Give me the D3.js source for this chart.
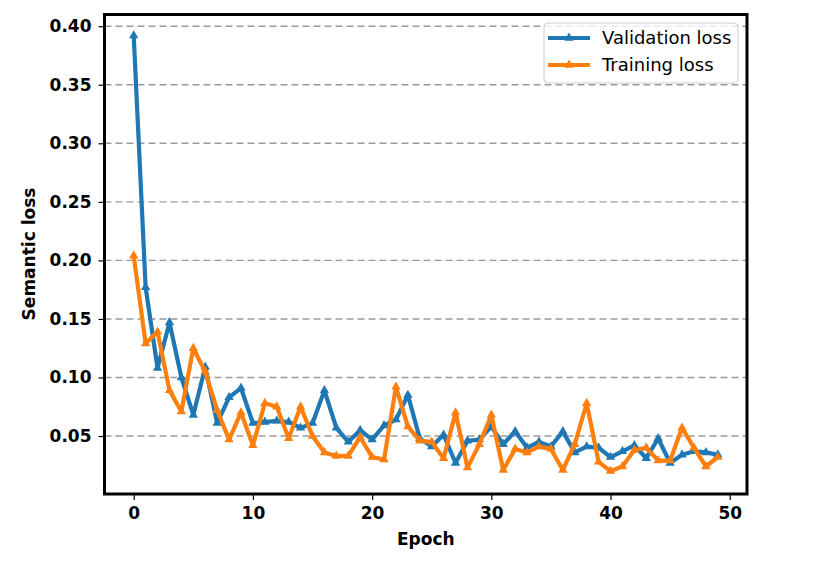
<!DOCTYPE html>
<html>
<head>
<meta charset="utf-8">
<script src="https://cdn.jsdelivr.net/npm/d3@7"></script>
<style>
  html, body { margin: 0; padding: 0; background: #fff; }
  svg { display: block; }
  text { font-family: "DejaVu Sans", sans-serif; }
</style>
</head>
<body>
<svg id="chart" width="830" height="562"></svg>
<script>
const epochs = d3.range(0, 50);
const validationLoss = [
  0.392, 0.177, 0.108, 0.147, 0.100, 0.068, 0.109, 0.061, 0.083, 0.091,
  0.061, 0.062, 0.063, 0.062, 0.057, 0.061, 0.089, 0.057, 0.045, 0.055,
  0.047, 0.059, 0.064, 0.085, 0.048, 0.041, 0.051, 0.027, 0.046, 0.047,
  0.058, 0.043, 0.054, 0.040, 0.045, 0.041, 0.054, 0.036, 0.041, 0.040,
  0.032, 0.037, 0.042, 0.031, 0.048, 0.027, 0.034, 0.037, 0.036, 0.034
];
const trainingLoss = [
  0.204, 0.129, 0.139, 0.089, 0.071, 0.125, 0.105, 0.072, 0.047, 0.070,
  0.042, 0.078, 0.075, 0.048, 0.075, 0.050, 0.036, 0.033, 0.033, 0.049,
  0.032, 0.030, 0.092, 0.058, 0.046, 0.045, 0.031, 0.070, 0.023, 0.043,
  0.068, 0.021, 0.039, 0.036, 0.041, 0.039, 0.021, 0.043, 0.078, 0.028,
  0.020, 0.024, 0.038, 0.040, 0.029, 0.029, 0.057, 0.040, 0.024, 0.032
];
const xTicks = [0, 10, 20, 30, 40, 50];
const yTicks = [0.05, 0.10, 0.15, 0.20, 0.25, 0.30, 0.35, 0.40];
const seriesNames = ["Validation loss", "Training loss"];
const seriesColors = ["#1f77b4", "#ff7f0e"];

const svg = d3.select("#chart");
const L = 104.5, R = 747, T = 14.5, B = 494;

const x = d3.scaleLinear().domain([-2.45, 51.45]).range([L, R]);
const y = d3.scaleLinear().domain([0.0005, 0.41]).range([B, T]);

// grid
svg.append("g").selectAll("line").data(yTicks).join("line")
  .attr("x1", L).attr("x2", R)
  .attr("y1", d => y(d)).attr("y2", d => y(d))
  .attr("stroke", "#9a9a9a").attr("stroke-width", 1.4)
  .attr("stroke-dasharray", "7,4");

// axes
const xAxis = d3.axisBottom(x).tickValues(xTicks).tickFormat(d3.format("d")).tickSize(6).tickPadding(7);
const yAxis = d3.axisLeft(y).tickValues(yTicks).tickFormat(d3.format(".2f")).tickSize(6).tickPadding(7);

const gx = svg.append("g").attr("transform", `translate(0,${B})`).call(xAxis);
const gy = svg.append("g").attr("transform", `translate(${L},0)`).call(yAxis);
[gx, gy].forEach(g => {
  g.select(".domain").remove();
  g.selectAll(".tick line").attr("stroke", "#000").attr("stroke-width", 1.2);
  g.selectAll(".tick text").attr("fill", "#000")
    .style("font-family", "'DejaVu Sans', sans-serif")
    .style("font-size", "17px").style("font-weight", "bold");
});

// clip
svg.append("clipPath").attr("id", "clip").append("rect")
  .attr("x", L).attr("y", T).attr("width", R - L).attr("height", B - T);

const plot = svg.append("g").attr("clip-path", "url(#clip)");
const line = d3.line().x((d, i) => x(epochs[i])).y(d => y(d));
const tri = d3.symbol().type(d3.symbolTriangle).size(38);

[validationLoss, trainingLoss].forEach((vals, k) => {
  const g = plot.append("g");
  g.append("path").datum(vals)
    .attr("d", line).attr("fill", "none")
    .attr("stroke", seriesColors[k]).attr("stroke-width", 4.2)
    .attr("stroke-linejoin", "round").attr("stroke-linecap", "butt");
  g.selectAll("path.m").data(vals).join("path").attr("class", "m")
    .attr("d", tri)
    .attr("transform", (d, i) => `translate(${x(epochs[i])},${y(d)})`)
    .attr("fill", seriesColors[k]);
});

// frame
svg.append("rect").attr("x", L).attr("y", T).attr("width", R - L).attr("height", B - T)
  .attr("fill", "none").attr("stroke", "#000").attr("stroke-width", 3);

// axis labels
svg.append("text").attr("x", (L + R) / 2).attr("y", 545)
  .attr("text-anchor", "middle")
  .style("font-size", "17px").style("font-weight", "bold").text("Epoch");
svg.append("text").attr("transform", "translate(35,254) rotate(-90)")
  .attr("text-anchor", "middle")
  .style("font-size", "17px").style("font-weight", "bold").text("Semantic loss");

// legend
const lg = svg.append("g");
lg.append("rect").attr("x", 544).attr("y", 23).attr("width", 194).attr("height", 60)
  .attr("rx", 4).attr("fill", "#fff").attr("fill-opacity", 0.8)
  .attr("stroke", "#cccccc").attr("stroke-width", 1);
const rows = [38, 65];
seriesNames.forEach((name, k) => {
  lg.append("line").attr("x1", 548).attr("x2", 590).attr("y1", rows[k]).attr("y2", rows[k])
    .attr("stroke", seriesColors[k]).attr("stroke-width", 4.2);
  lg.append("path").attr("d", tri).attr("transform", `translate(569,${rows[k]})`)
    .attr("fill", seriesColors[k]);
  lg.append("text").attr("x", 602).attr("y", rows[k]).attr("dy", "0.35em")
    .style("font-size", "18px").attr("fill", "#000").text(name);
});
</script>
</body>
</html>
